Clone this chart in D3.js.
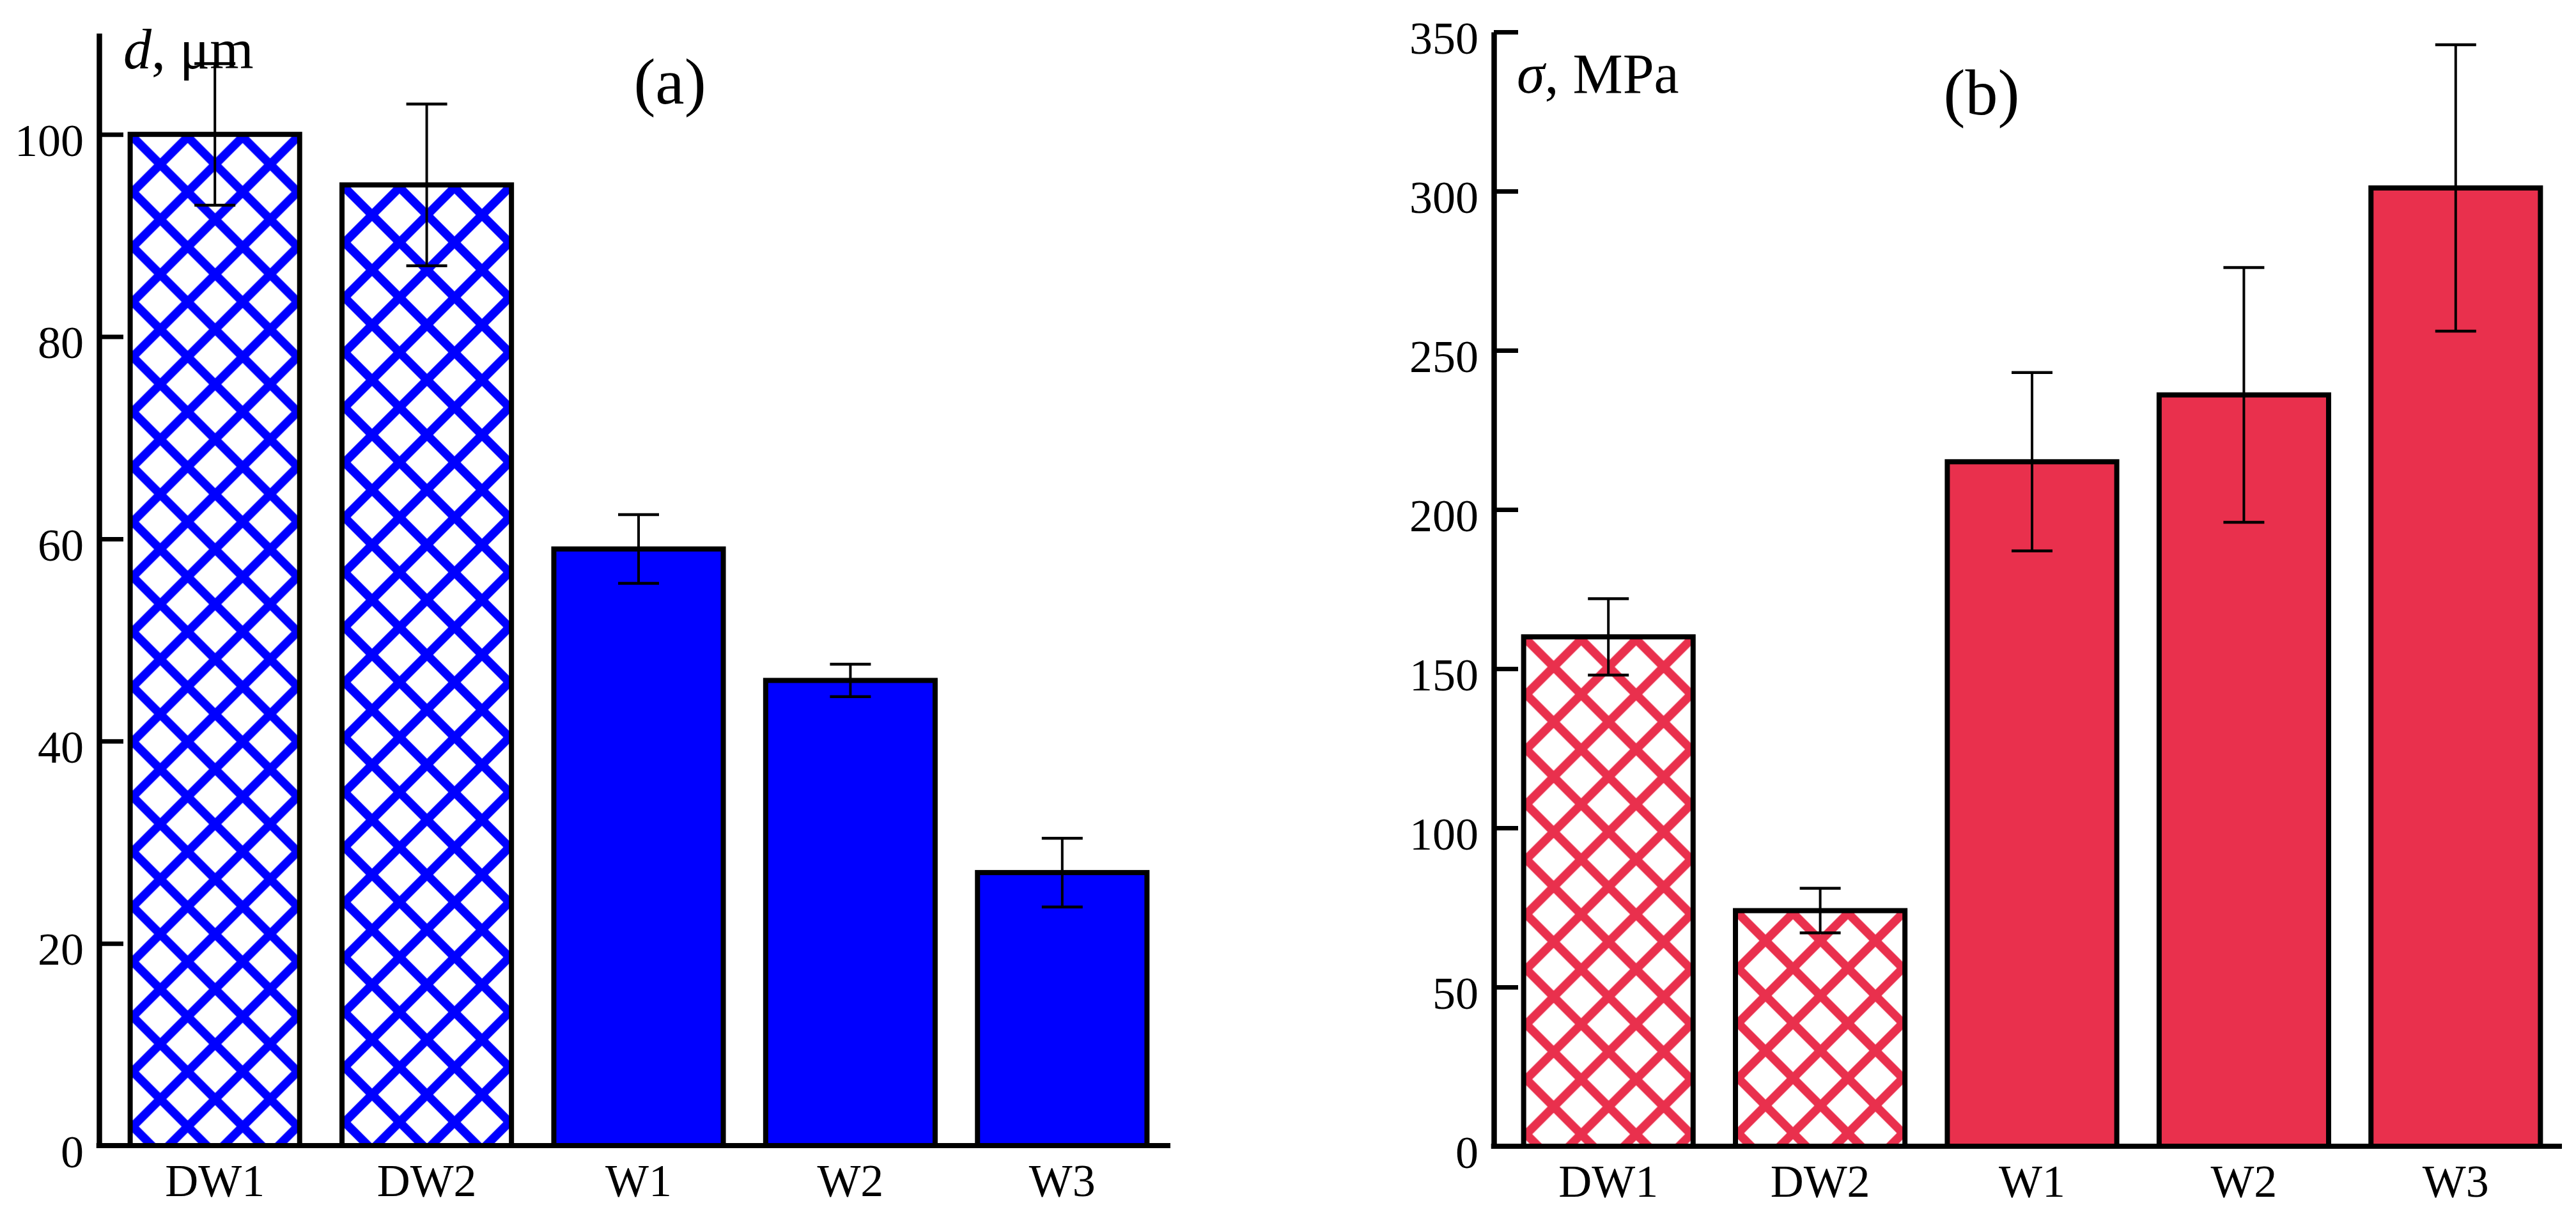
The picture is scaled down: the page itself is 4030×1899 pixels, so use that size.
<!DOCTYPE html>
<html lang="en">
  <head>
    <meta charset="UTF-8" />
    <title>Grain size and strength</title>
    <style>
      body {
        margin: 0;
        background: #ffffff;
      }
      svg text {
        font-family: "Liberation Serif", "Times New Roman", serif;
        fill: #000;
      }
    </style>
    <script src="https://d3js.org/d3.v7.min.js"></script>
  </head>
  <body>
    <svg id="chart"></svg>
    <script>
      // data
      const categories = ["DW1", "DW2", "W1", "W2", "W3"];
      const hatched = [true, true, false, false, false];

      const grainSize = [100, 95, 59, 46, 27];
      const grainSizeErr = [7, 8, 3.4, 1.6, 3.4];
      const grainTicks = [0, 20, 40, 60, 80, 100];

      const strength = [160, 74, 215, 236, 301];
      const strengthErr = [12, 7, 28, 40, 45];
      const strengthTicks = [0, 50, 100, 150, 200, 250, 300, 350];

      const width = 4030;
      const height = 1899;

      const svg = d3
        .select("#chart")
        .attr("width", width)
        .attr("height", height);

      const defs = svg.append("defs");

      const barStroke = 8;

      function drawPanel(p) {
        const g = svg.append("g");

        const x = d3
          .scaleBand()
          .domain(categories)
          .range(p.xRange)
          .paddingInner(0.2)
          .paddingOuter(0.1);

        const y = d3.scaleLinear().domain(p.yDomain).range(p.yRange);

        // bars
        const bars = g
          .selectAll("g.bar")
          .data(categories)
          .join("g")
          .attr("class", "bar");

        bars.each(function (c, i) {
          const bx = x(c);
          const by = y(p.values[i]);
          const bw = x.bandwidth();
          const bh = y(0) - by;
          const sel = d3.select(this);
          if (hatched[i]) {
            // diamond cross-hatch, anchored at the bar's inner top-left corner
            const id = p.id + "-hatch-" + i;
            const pat = defs
              .append("pattern")
              .attr("id", id)
              .attr("patternUnits", "userSpaceOnUse")
              .attr("x", bx + barStroke / 2)
              .attr("y", by + barStroke / 2)
              .attr("width", 86)
              .attr("height", 86);
            pat
              .append("path")
              .attr("d", "M-10,-10L96,96M96,-10L-10,96")
              .attr("stroke", p.color)
              .attr("stroke-width", 13.5);
            sel
              .append("rect")
              .attr("x", bx)
              .attr("y", by)
              .attr("width", bw)
              .attr("height", bh)
              .attr("fill", "#fff");
            sel
              .append("rect")
              .attr("x", bx)
              .attr("y", by)
              .attr("width", bw)
              .attr("height", bh)
              .attr("fill", `url(#${id})`)
              .attr("stroke", "#000")
              .attr("stroke-width", barStroke);
          } else {
            sel
              .append("rect")
              .attr("x", bx)
              .attr("y", by)
              .attr("width", bw)
              .attr("height", bh)
              .attr("fill", p.color)
              .attr("stroke", "#000")
              .attr("stroke-width", barStroke);
          }
        });

        // error bars
        const cap = 32;
        const err = g
          .selectAll("g.err")
          .data(categories)
          .join("g")
          .attr("class", "err")
          .attr("stroke", "#000");

        err
          .append("line")
          .attr("x1", (c) => x(c) + x.bandwidth() / 2)
          .attr("x2", (c) => x(c) + x.bandwidth() / 2)
          .attr("y1", (c, i) => y(p.values[i] + p.errors[i]))
          .attr("y2", (c, i) => y(p.values[i] - p.errors[i]))
          .attr("stroke-width", 4);

        [1, -1].forEach((s) => {
          err
            .append("line")
            .attr("x1", (c) => x(c) + x.bandwidth() / 2 - cap)
            .attr("x2", (c) => x(c) + x.bandwidth() / 2 + cap)
            .attr("y1", (c, i) => y(p.values[i] + s * p.errors[i]))
            .attr("y2", (c, i) => y(p.values[i] + s * p.errors[i]))
            .attr("stroke-width", 4.5);
        });

        // y axis, ticks pointing inward
        const yAxis = g
          .append("g")
          .attr("transform", `translate(${p.axisX},0)`)
          .call(
            d3
              .axisLeft(y)
              .tickValues(p.ticks)
              .tickSizeInner(-38)
              .tickSizeOuter(0)
              .tickPadding(24)
          );
        yAxis.select(".domain").attr("stroke-width", 8.5);
        yAxis.selectAll(".tick line").attr("stroke-width", 7);
        yAxis
          .selectAll(".tick text")
          .attr("font-size", 72)
          .attr("font-family", "Liberation Serif")
          .attr("dy", "0.46em");

        // x axis
        const xAxis = g
          .append("g")
          .attr("transform", `translate(0,${y(0)})`)
          .call(d3.axisBottom(x).tickSize(0).tickPadding(28));
        xAxis.select(".domain").remove();
        xAxis
          .selectAll(".tick text")
          .attr("font-size", 72)
          .attr("font-family", "Liberation Serif");
        g.append("line")
          .attr("x1", p.axisX - 4.25)
          .attr("x2", p.xAxisEnd)
          .attr("y1", y(0))
          .attr("y2", y(0))
          .attr("stroke", "#000")
          .attr("stroke-width", 8);

        // axis title
        const t = g
          .append("text")
          .attr("x", p.titleX)
          .attr("y", p.titleY)
          .attr("font-size", 88);
        t.append("tspan").attr("font-style", "italic").text(p.symbol);
        t.append("tspan").text(", " + p.unit);

        // panel letter
        g.append("text")
          .attr("x", p.letterX)
          .attr("y", p.letterY)
          .attr("text-anchor", "middle")
          .attr("font-size", 102)
          .text(p.letter);
      }

      drawPanel({
        id: "a",
        values: grainSize,
        errors: grainSizeErr,
        ticks: grainTicks,
        color: "#0000ff",
        xRange: [170.5, 1827.5],
        yDomain: [0, 110],
        yRange: [1792, 52],
        axisX: 155,
        xAxisEnd: 1831,
        symbol: "d",
        unit: "μm",
        titleX: 193,
        titleY: 107,
        letter: "(a)",
        letterX: 1048,
        letterY: 162,
      });

      drawPanel({
        id: "b",
        values: strength,
        errors: strengthErr,
        ticks: strengthTicks,
        color: "#e9304d",
        xRange: [2350.5, 4007.5],
        yDomain: [0, 350],
        yRange: [1793, 50],
        axisX: 2337,
        xAxisEnd: 4008,
        symbol: "σ",
        unit: "MPa",
        titleX: 2373,
        titleY: 145,
        letter: "(b)",
        letterX: 3100,
        letterY: 179,
      });
    </script>
  </body>
</html>
